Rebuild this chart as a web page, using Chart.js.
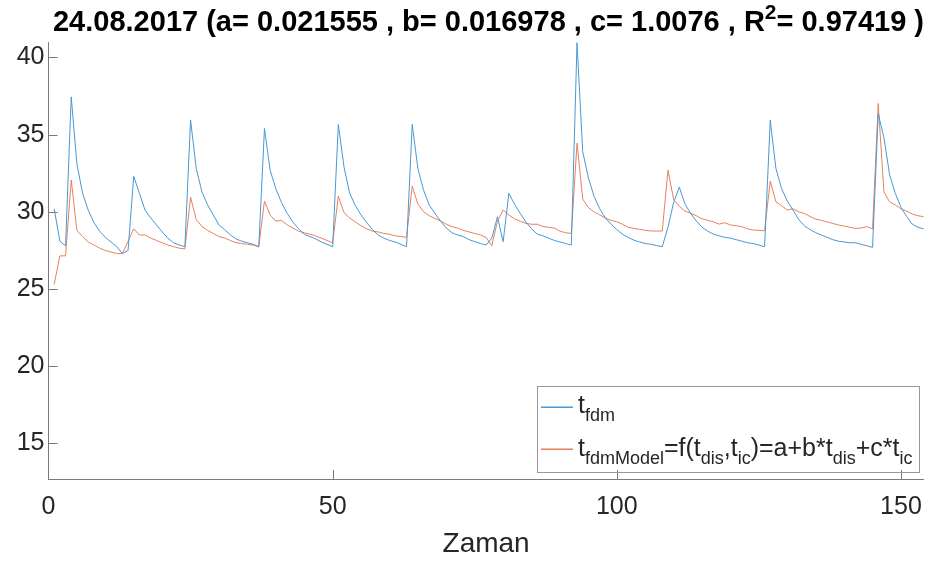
<!DOCTYPE html>
<html>
<head>
<meta charset="utf-8">
<script src="https://cdn.jsdelivr.net/npm/chart.js@4.4.0/dist/chart.umd.min.js"></script>
<style>
  html, body { margin: 0; padding: 0; background: #fff; }
  canvas { display: block; }
</style>
</head>
<body>
<canvas id="chart" width="935" height="563"></canvas>
<script>
// measured series, one value per time step (1..154)
const tFdm = [
  30.2, 28.1, 27.8, 37.45, 33.1, 31.2, 30.1, 29.3, 28.75, 28.35,
  28.05, 27.75, 27.3, 27.5, 32.3, 31.2, 30.1, 29.6, 29.15, 28.7,
  28.3, 28.0, 27.85, 27.75, 35.94, 32.8, 31.3, 30.45, 29.8, 29.15,
  28.85, 28.5, 28.25, 28.1, 28.0, 27.9, 27.74, 35.4, 32.7, 31.5,
  30.6, 29.9, 29.35, 28.9, 28.55, 28.4, 28.25, 28.05, 27.9, 27.74,
  35.66, 32.9, 31.2, 30.4, 29.8, 29.3, 28.85, 28.5, 28.3, 28.15,
  28.05, 27.9, 27.74, 35.66, 32.8, 31.4, 30.44, 29.9, 29.4, 28.95,
  28.65, 28.5, 28.4, 28.2, 28.07, 27.95, 27.85, 28.3, 29.68, 28.07,
  31.2, 30.5, 29.9, 29.35, 28.9, 28.56, 28.45, 28.3, 28.15, 28.05,
  27.95, 27.85, 40.95, 33.9, 32.2, 31.0, 30.2, 29.6, 29.2, 28.85,
  28.55, 28.35, 28.17, 28.05, 27.95, 27.9, 27.82, 27.74, 29.0, 30.6,
  31.6, 30.5, 29.9, 29.4, 29.0, 28.75, 28.56, 28.45, 28.35, 28.3,
  28.2, 28.1, 28.0, 27.95, 27.85, 27.74, 35.94, 32.8, 31.5, 30.7,
  30.12, 29.5, 29.1, 28.85, 28.65, 28.5, 28.35, 28.2, 28.1, 28.05,
  28.0, 28.0, 27.9, 27.8, 27.7, 36.37, 34.8, 32.4, 31.2, 30.3,
  29.7, 29.2, 29.0, 28.9
];

const tFdmModel = [
  25.3, 27.15, 27.15, 32.06, 28.8, 28.4, 28.05, 27.85, 27.65, 27.5,
  27.4, 27.3, 27.3, 28.1, 28.9, 28.5, 28.5, 28.3, 28.15, 28.0,
  27.85, 27.75, 27.65, 27.6, 30.94, 29.5, 29.05, 28.8, 28.6, 28.4,
  28.3, 28.15, 28.0, 27.95, 27.9, 27.85, 27.74, 30.7, 29.8, 29.4,
  29.45, 29.15, 28.95, 28.75, 28.65, 28.55, 28.45, 28.3, 28.15, 27.98,
  31.02, 29.95, 29.6, 29.35, 29.1, 28.9, 28.75, 28.7, 28.6, 28.55,
  28.45, 28.4, 28.35, 31.67, 30.5, 30.0, 29.75, 29.58, 29.4, 29.2,
  29.04, 28.95, 28.8, 28.7, 28.6, 28.5, 28.35, 27.8, 29.4, 30.12,
  29.8, 29.55, 29.4, 29.25, 29.2, 29.2, 29.05, 29.0, 28.95, 28.75,
  28.65, 28.6, 34.45, 30.83, 30.27, 30.0, 29.8, 29.6, 29.45, 29.36,
  29.2, 29.0, 28.93, 28.87, 28.8, 28.76, 28.76, 28.76, 32.7, 30.8,
  30.35, 30.05, 29.9, 29.75, 29.55, 29.45, 29.36, 29.2, 29.3, 29.15,
  29.1, 29.04, 28.9, 28.82, 28.8, 28.78, 32.0, 30.65, 30.4, 30.12,
  30.2, 30.0, 29.9, 29.7, 29.53, 29.45, 29.35, 29.25, 29.15, 29.08,
  29.0, 28.93, 28.95, 29.04, 28.9, 37.02, 31.3, 30.65, 30.45, 30.2,
  30.05, 29.86, 29.75, 29.68
];

const xTicks = [0, 50, 100, 150];
const yTicks = [15, 20, 25, 30, 35, 40];

const titleParts = [
  { t: '24.08.2017 (a= 0.021555 , b= 0.016978 , c= 1.0076 , R' },
  { t: '2', sup: true },
  { t: '= 0.97419 )' }
];
const legendRows = [
  [{ t: 't' }, { t: 'fdm', sub: true }],
  [{ t: 't' }, { t: 'fdmModel', sub: true }, { t: '=f(t' }, { t: 'dis', sub: true },
   { t: ',t' }, { t: 'ic', sub: true }, { t: ')=a+b*t' }, { t: 'dis', sub: true },
   { t: '+c*t' }, { t: 'ic', sub: true }]
];

const FONT = '"Liberation Sans", Arial, Helvetica, sans-serif';
const textColor = '#262626';
const axisColor = '#7a7a7a';
const blue = 'rgb(72, 152, 212)';
const orange = 'rgb(232, 128, 92)';

// draws text made of normal / sub / superscript pieces
function drawRich(ctx, parts, x, y, size, bold, align) {
  const w = [];
  let total = 0;
  parts.forEach(p => {
    const s = (p.sub || p.sup) ? size * 0.72 : size;
    ctx.font = (bold ? 'bold ' : '') + s + 'px ' + FONT;
    const m = ctx.measureText(p.t).width;
    w.push(m);
    total += m;
  });
  let cx = align === 'center' ? x - total / 2 : x;
  ctx.textBaseline = 'alphabetic';
  ctx.textAlign = 'left';
  parts.forEach((p, i) => {
    const s = (p.sub || p.sup) ? size * 0.72 : size;
    ctx.font = (bold ? 'bold ' : '') + s + 'px ' + FONT;
    let dy = 0;
    if (p.sub) dy = size * 0.3;
    if (p.sup) dy = -size * 0.42;
    ctx.fillText(p.t, cx, y + dy);
    cx += w[i];
  });
}

const extras = {
  id: 'extras',
  afterDraw(chart) {
    const ctx = chart.ctx;
    const xs = chart.scales.x, ys = chart.scales.y;
    const area = chart.chartArea;
    ctx.save();
    // tick marks pointing into the plot
    ctx.strokeStyle = axisColor;
    ctx.lineWidth = 1;
    ctx.beginPath();
    xTicks.forEach(v => {
      if (v === 0) return;
      const px = Math.round(xs.getPixelForValue(v)) + 0.5;
      ctx.moveTo(px, area.bottom);
      ctx.lineTo(px, area.bottom - 9);
    });
    yTicks.forEach(v => {
      const py = Math.round(ys.getPixelForValue(v)) + 0.5;
      ctx.moveTo(area.left, py);
      ctx.lineTo(area.left + 9, py);
    });
    ctx.stroke();

    // legend box, drawn from the datasets' own colours
    const lx = 537.5, ly = 386.5, lw = 382, lh = 86;
    ctx.fillStyle = '#fff';
    ctx.fillRect(lx, ly, lw, lh - 3);
    ctx.strokeStyle = '#999999';
    ctx.strokeRect(lx, ly, lw, lh);
    const rowY = [406.5, 448.5];
    chart.data.datasets.forEach((ds, i) => {
      ctx.fillStyle = ds.borderColor;
      ctx.fillRect(541, rowY[i], 32, 1.5);
    });
    ctx.fillStyle = textColor;
    drawRich(ctx, legendRows[0], 578, 413, 25, false, 'left');
    drawRich(ctx, legendRows[1], 578, 456, 25, false, 'left');

    // title
    ctx.fillStyle = '#000';
    drawRich(ctx, titleParts, 488.5, 31, 29, true, 'center');
    ctx.restore();
  }
};

const ctx = document.getElementById('chart').getContext('2d');
new Chart(ctx, {
  type: 'line',
  data: {
    datasets: [
      {
        label: 't_fdm',
        data: tFdm.map((v, i) => ({ x: i + 1, y: v })),
        borderColor: blue,
        borderWidth: 1,
        pointRadius: 0,
        tension: 0,
        fill: false
      },
      {
        label: 't_fdmModel',
        data: tFdmModel.map((v, i) => ({ x: i + 1, y: v })),
        borderColor: orange,
        borderWidth: 1,
        pointRadius: 0,
        tension: 0,
        fill: false
      }
    ]
  },
  options: {
    responsive: false,
    animation: false,
    devicePixelRatio: 1,
    layout: { padding: { left: 0, right: 7, top: 42, bottom: 0 } },
    plugins: {
      legend: { display: false },
      title: { display: false },
      tooltip: { enabled: false }
    },
    scales: {
      x: {
        type: 'linear',
        min: 0,
        max: 154,
        afterFit: s => { s.height = 84; },
        afterBuildTicks: s => { s.ticks = xTicks.map(v => ({ value: v })); },
        border: { display: true, color: axisColor, width: 1 },
        grid: { display: false, drawTicks: false },
        ticks: {
          padding: 13,
          maxRotation: 0,
          color: textColor,
          font: { family: FONT, size: 25 }
        },
        title: {
          display: true,
          text: 'Zaman',
          color: textColor,
          font: { family: FONT, size: 28 },
          padding: { top: 0, bottom: 2 }
        }
      },
      y: {
        type: 'linear',
        min: 12.7,
        max: 41,
        afterFit: s => { s.width = 48.5; },
        afterBuildTicks: s => { s.ticks = yTicks.map(v => ({ value: v })); },
        border: { display: true, color: axisColor, width: 1 },
        grid: { display: false, drawTicks: false },
        ticks: {
          padding: 4,
          color: textColor,
          font: { family: FONT, size: 25 }
        }
      }
    }
  },
  plugins: [extras]
});
</script>
</body>
</html>
